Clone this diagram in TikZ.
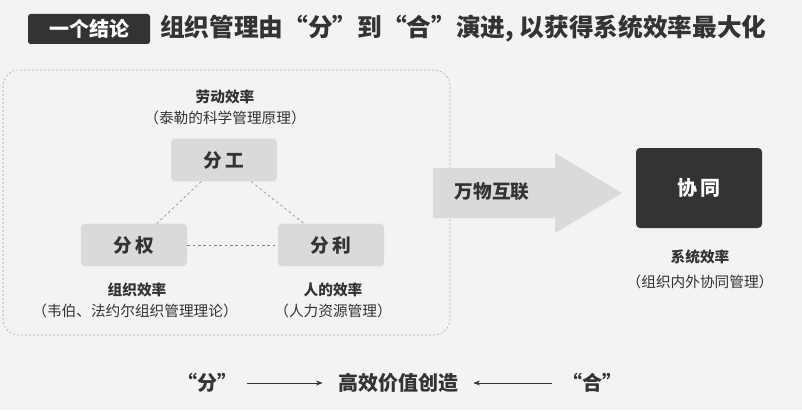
\documentclass[tikz,border=0pt]{standalone}
\usepackage{fontspec}
\setmainfont{Noto Sans CJK SC}
\newcommand\cjkb{\bfseries}
\usetikzlibrary{arrows.meta}
\definecolor{bg}{HTML}{F3F3F3}
\definecolor{boxg}{HTML}{DADADA}
\definecolor{dk}{HTML}{333333}
\tikzset{
 gbox/.style={fill=boxg,rounded corners=3pt,minimum width=79.5pt,minimum height=32pt,font=\fontsize{14}{16}\selectfont\cjkb,text=dk},
 head/.style={font=\fontsize{11}{13}\selectfont\cjkb,text=dk},
 sub/.style={font=\fontsize{11}{13}\selectfont,text=dk},
 link/.style={draw=gray,dash pattern=on 2pt off 2pt,thin},
 bot/.style={font=\fontsize{15}{17}\selectfont\cjkb,text=dk},
 barr/.style={-{Stealth[length=5pt]},draw=dk},
}
\begin{document}
\begin{tikzpicture}[x=0.75pt,y=-0.75pt]
\useasboundingbox (0,0) rectangle (802,410);
\fill[bg] (0,0) rectangle (802,410);
\node[fill=dk,rounded corners=2pt,minimum width=91.5pt,minimum height=22.5pt,text=white,font=\fontsize{15}{17}\selectfont\cjkb] (tag) at (89,29) {一个结论};
\node[anchor=west,font=\fontsize{18.5}{20}\selectfont\cjkb,text=dk,inner sep=0pt] (title) at (160,29) {组织管理由“分”到“合”演进, 以获得系统效率最大化};
\draw[gray!70,dash pattern=on 1.5pt off 1.5pt,rounded corners=12pt] (3,70) rectangle (450,335);
\node[head] (h1) at (225,97) {劳动效率};
\node[sub] (s1) at (225,118) {（泰勒的科学管理原理）};
\node[gbox] (fg) at (224,160) {分\,工};
\node[gbox] (fq) at (134,245) {分\,权};
\node[gbox] (fl) at (331,245) {分\,利};
\draw[link] (fg) -- (fq);
\draw[link] (fg) -- (fl);
\draw[link] (fq) -- (fl);
\node[head] (h2) at (137,290) {组织效率};
\node[sub] (s2) at (135,311) {（韦伯、法约尔组织管理理论）};
\node[head] (h3) at (333,290) {人的效率};
\node[sub] (s3) at (333,311) {（人力资源管理）};
\fill[boxg] (433,168) -- (555,168) -- (555,153) -- (622,193) -- (555,233) -- (555,218) -- (433,218) -- cycle;
\node[font=\fontsize{14}{16}\selectfont\cjkb,text=dk] (wl) at (492,192) {万物互联};
\node[fill=dk,rounded corners=3pt,minimum width=94.5pt,minimum height=60pt,text=white,font=\fontsize{15}{17}\selectfont\cjkb] (xt) at (699,188) {协\,同};
\node[head] (h4) at (700,257) {系统效率};
\node[sub] (s4) at (700,282) {（组织内外协同管理）};
\node[bot] (fen) at (207,383) {“分”};
\node[bot] (gx) at (398,383) {高效价值创造};
\node[bot] (he) at (592,383) {“合”};
\draw[barr,shorten <=4pt,shorten >=8pt] (fen) -- (gx);
\draw[barr,shorten <=4pt,shorten >=8pt] (he) -- (gx);
\end{tikzpicture}
\end{document}
